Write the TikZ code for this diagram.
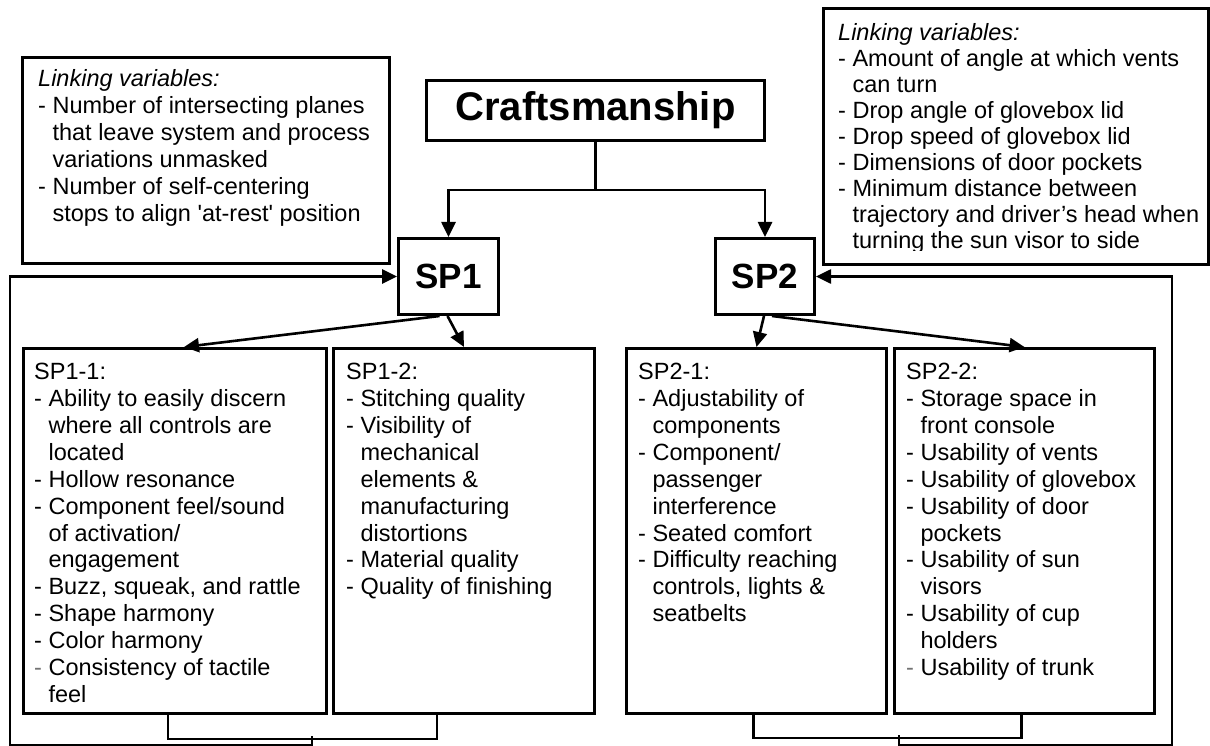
\documentclass[tikz,border=0pt]{standalone}
\usepackage{fontspec}
\setmainfont{Liberation Sans}[Ligatures=TeXOff]
\usetikzlibrary{arrows.meta}
% hanging indent for wrapped list lines
\newcommand{\hang}{\hphantom{-\ }}
% lighter dash used on a few list items
\newcommand{\lightdash}{\textcolor{black!55}{-}}

\begin{document}
\begin{tikzpicture}[x=1pt,y=-1pt,
  box/.style={draw,line width=3pt,inner sep=0pt,anchor=north west},
  txt/.style={anchor=north west,inner sep=0pt,align=left,
              font=\fontsize{23.5}{26.9}\selectfont},
  bigtitle/.style={font=\fontsize{40}{46}\selectfont\bfseries},
  sptitle/.style={font=\fontsize{35}{40}\selectfont\bfseries},
  conn/.style={line width=2.6pt},
  arr/.style={conn,-{Triangle[length=15pt,width=14pt]}},
]
\useasboundingbox (0,0) rectangle (1210,746);

% ---- boxes ----
\node[box,minimum width=367pt,minimum height=206pt] (link1) at (21,56) {};
\node[box,minimum width=385pt,minimum height=256pt] (link2) at (822,7) {};
\node[box,bigtitle,minimum width=338pt,minimum height=60pt] (craft) at (425,79) {Craftsmanship};
\node[box,sptitle,minimum width=100pt,minimum height=76pt] (sp1) at (397,237) {SP1};
\node[box,sptitle,minimum width=99pt,minimum height=76pt] (sp2) at (714,237) {SP2};
\node[box,minimum width=303pt,minimum height=365pt] (sp11) at (22,347) {};
\node[box,minimum width=261pt,minimum height=365pt] (sp12) at (332,347) {};
\node[box,minimum width=260pt,minimum height=365pt] (sp21) at (625,347) {};
\node[box,minimum width=260pt,minimum height=365pt] (sp22) at (893,347) {};

% ---- box texts ----
\node[txt,font=\fontsize{23.5}{27}\selectfont] (link1txt) at (38,69) {{\itshape Linking variables:}\\
- Number of intersecting planes\\
\hang that leave system and process\\
\hang variations unmasked\\
- Number of self-centering\\
\hang stops to align 'at-rest' position};

% the last line runs into the frame and is cut off
\begin{scope}
  \clip (822,0) rectangle (1210,250.5);
  \node[txt,font=\fontsize{23.5}{26}\selectfont] (link2txt) at (838,23) {{\itshape Linking variables:}\\
  - Amount of angle at which vents\\
  \hang can turn\\
  - Drop angle of glovebox lid\\
  - Drop speed of glovebox lid\\
  - Dimensions of door pockets\\
  - Minimum distance between\\
  \hang trajectory and driver’s head when\\
  \hang turning the sun visor to side};
\end{scope}

\node[txt] (sp11txt) at (34,363) {SP1-1:\\
- Ability to easily discern\\
\hang where all controls are\\
\hang located\\
- Hollow resonance\\
- Component feel/sound\\
\hang of activation/\\
\hang engagement\\
- Buzz, squeak, and rattle\\
- Shape harmony\\
- Color harmony\\
\lightdash\ Consistency of tactile\\
\hang feel};

\node[txt] (sp12txt) at (346,363) {SP1-2:\\
- Stitching quality\\
- Visibility of\\
\hang mechanical\\
\hang elements \&\\
\hang manufacturing\\
\hang distortions\\
- Material quality\\
- Quality of finishing};

\node[txt] (sp21txt) at (638,363) {SP2-1:\\
- Adjustability of\\
\hang components\\
- Component/\\
\hang passenger\\
\hang interference\\
- Seated comfort\\
- Difficulty reaching\\
\hang controls, lights \&\\
\hang seatbelts};

\node[txt] (sp22txt) at (906,363) {SP2-2:\\
- Storage space in\\
\hang front console\\
- Usability of vents\\
- Usability of glovebox\\
- Usability of door\\
\hang pockets\\
- Usability of sun\\
\hang visors\\
- Usability of cup\\
\hang holders\\
\lightdash\ Usability of trunk};

% ---- top-down connectors ----
\draw[arr] (craft.south) -- ++(0,48) -| (sp1.north);
\draw[arr] (craft.south) -- ++(0,48) -| (sp2.north);
\draw[arr] ([xshift=-9pt]sp1.south) -- ([xshift=9pt]sp11.north);
\draw[arr] ([xshift=-1pt]sp1.south) -- (sp12.north);
\draw[arr] ([xshift=-1pt]sp2.south) -- (sp21.north);
\draw[arr] ([xshift=7pt]sp2.south) -- (sp22.north);

% ---- feedback loops ----
\coordinate (m1) at (312,736);
\coordinate (c1) at (10,745);
\draw[conn] ([xshift=-7pt]sp11.south) -- ++(0,24) -| ([xshift=-27pt]sp12.south);
\draw[arr] (m1) |- (c1) |- (sp1.west);

\coordinate (m2) at (899,735);
\coordinate (c2) at (1172,745);
\draw[conn] ([xshift=-3pt]sp21.south) -- ++(0,23) -| ([xshift=-3pt]sp22.south);
\draw[arr] (m2) |- (c2) |- (sp2.east);
\end{tikzpicture}
\end{document}
